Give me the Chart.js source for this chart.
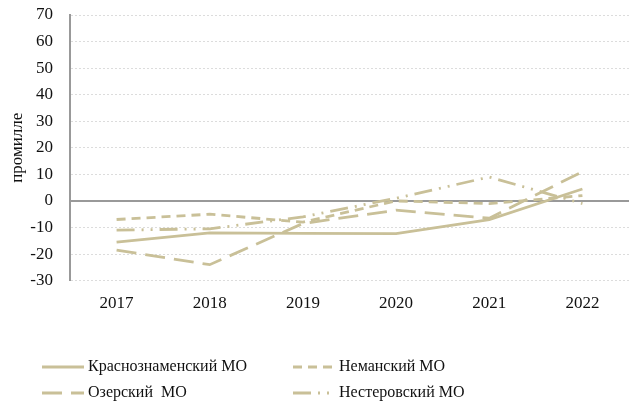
<!DOCTYPE html>
<html>
<head>
<meta charset="utf-8">
<script src="https://cdn.jsdelivr.net/npm/chart.js@4"></script>
<style>
  html, body { margin: 0; padding: 0; background: #fff; }
  #wrap { width: 629px; height: 407px; position: relative; }
</style>
</head>
<body>
<div id="wrap"><canvas id="chart"></canvas></div>
<script>
const years = ['2017', '2018', '2019', '2020', '2021', '2022'];
const krasnoznamensk = [-15.5, -12, -12.2, -12.3, -7, 4.5];
const neman = [-7, -5, -8, 0, -1, 2];
const ozersk = [-18.5, -24, -8.5, -3.5, -6.5, 11];
const nesterov = [-11, -10.5, -6, 1, 9, -1];
const yTicks = [-30, -20, -10, 0, 10, 20, 30, 40, 50, 60, 70];

const lineColor = 'rgb(201, 192, 152)';
const serif = "'Liberation Serif', 'DejaVu Serif', serif";

const series = [
  { label: 'Краснознаменский МО', data: krasnoznamensk, dash: [] },
  { label: 'Неманский МО', data: neman, dash: [9, 6] },
  { label: 'Озерский  МО', data: ozersk, dash: [20, 9] },
  { label: 'Нестеровский МО', data: nesterov, dash: [18, 7, 2, 7, 2, 7] }
];

// zero line + legend drawn by hand so the two legend columns line up
const extras = {
  id: 'extras',
  beforeDatasetsDraw(chart) {
    const { ctx, chartArea, scales } = chart;
    const y0 = scales.y.getPixelForValue(0);
    ctx.save();
    ctx.strokeStyle = '#999';
    ctx.lineWidth = 2;
    ctx.beginPath();
    ctx.moveTo(chartArea.left, y0);
    ctx.lineTo(chartArea.right, y0);
    ctx.stroke();
    ctx.restore();
  },
  afterDraw(chart) {
    const { ctx } = chart;
    const spots = [[42, 367], [293, 367], [42, 393], [293, 393]];
    ctx.save();
    chart.data.datasets.forEach((ds, i) => {
      const [x, y] = spots[i];
      ctx.strokeStyle = lineColor;
      ctx.lineWidth = 3;
      ctx.setLineDash(ds.borderDash || []);
      ctx.beginPath();
      ctx.moveTo(x, y);
      ctx.lineTo(x + 42, y);
      ctx.stroke();
      ctx.setLineDash([]);
      ctx.fillStyle = '#111';
      ctx.font = '16px ' + serif;
      ctx.textBaseline = 'middle';
      ctx.fillText(ds.label, x + 46, y);
    });
    ctx.restore();
  }
};

new Chart(document.getElementById('chart'), {
  type: 'line',
  data: {
    labels: years,
    datasets: series.map(s => ({
      label: s.label,
      data: s.data,
      borderColor: lineColor,
      borderWidth: 2.8,
      borderDash: s.dash,
      pointRadius: 0,
      tension: 0,
      fill: false
    }))
  },
  options: {
    responsive: true,
    maintainAspectRatio: false,
    animation: false,
    layout: { padding: { top: 15, right: 0, bottom: 88, left: 0 } },
    plugins: {
      legend: { display: false },
      tooltip: { enabled: false }
    },
    scales: {
      x: {
        offset: true,
        grid: { display: false },
        border: { display: false },
        ticks: { color: '#111', font: { family: serif, size: 17 }, padding: 5 }
      },
      y: {
        min: -30,
        max: 70,
        afterBuildTicks: axis => { axis.ticks = yTicks.map(v => ({ value: v })); },
        afterFit: axis => {
          axis.width = 70;
          axis.paddingTop = 0;
          axis.paddingBottom = 0;
        },
        grid: { color: '#dcdcdc', lineWidth: 1, drawTicks: false },
        border: { display: true, color: '#999', width: 2, dash: [2, 2] },
        ticks: { color: '#111', font: { family: serif, size: 17 }, padding: 17 },
        title: {
          display: true,
          text: 'промилле',
          color: '#111',
          font: { family: serif, size: 17 },
          padding: { top: 7, bottom: 0 }
        }
      }
    }
  },
  plugins: [extras]
});
</script>
</body>
</html>
